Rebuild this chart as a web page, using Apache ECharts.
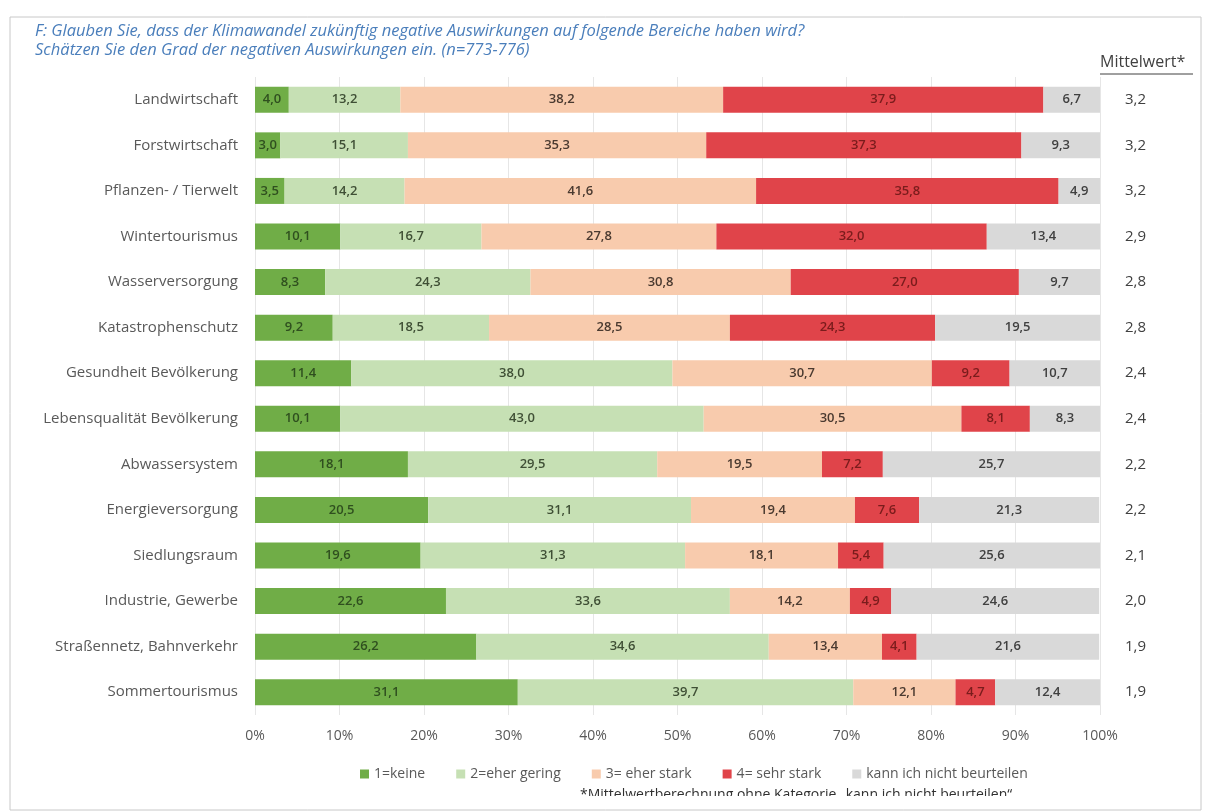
<!DOCTYPE html>
<html>
<head>
<meta charset="utf-8">
<script src="https://cdn.jsdelivr.net/npm/echarts@6/dist/echarts.min.js"></script>
<style>
  html, body { margin: 0; padding: 0; background: #fff; }
  #chart { width: 1212px; height: 812px; }
</style>
</head>
<body>
<div id="chart"></div>
<script>
// Kategorien (von oben nach unten)
const categories = [
  'Landwirtschaft', 'Forstwirtschaft', 'Pflanzen- / Tierwelt', 'Wintertourismus',
  'Wasserversorgung', 'Katastrophenschutz', 'Gesundheit Bevölkerung',
  'Lebensqualität Bevölkerung', 'Abwassersystem', 'Energieversorgung',
  'Siedlungsraum', 'Industrie, Gewerbe', 'Straßennetz, Bahnverkehr', 'Sommertourismus'
];
const keine      = [4.0, 3.0, 3.5, 10.1, 8.3, 9.2, 11.4, 10.1, 18.1, 20.5, 19.6, 22.6, 26.2, 31.1];
const eherGering = [13.2, 15.1, 14.2, 16.7, 24.3, 18.5, 38.0, 43.0, 29.5, 31.1, 31.3, 33.6, 34.6, 39.7];
const eherStark  = [38.2, 35.3, 41.6, 27.8, 30.8, 28.5, 30.7, 30.5, 19.5, 19.4, 18.1, 14.2, 13.4, 12.1];
const sehrStark  = [37.9, 37.3, 35.8, 32.0, 27.0, 24.3, 9.2, 8.1, 7.2, 7.6, 5.4, 4.9, 4.1, 4.7];
const nichtBeurt = [6.7, 9.3, 4.9, 13.4, 9.7, 19.5, 10.7, 8.3, 25.7, 21.3, 25.6, 24.6, 21.6, 12.4];
const mittelwert = [3.2, 3.2, 3.2, 2.9, 2.8, 2.8, 2.4, 2.4, 2.2, 2.2, 2.1, 2.0, 1.9, 1.9];
const xTicks = [0, 10, 20, 30, 40, 50, 60, 70, 80, 90, 100];

const fmt = v => v.toFixed(1).replace('.', ',');
const font = '"Open Sans", "Noto Sans", sans-serif';

const seriesDefs = [
  { name: '1=keine', data: keine, color: '#70AD47', text: '#2f4f1f' },
  { name: '2=eher gering', data: eherGering, color: '#C6E0B4', text: '#3f4f35' },
  { name: '3= eher stark', data: eherStark, color: '#F8CBAD', text: '#4a3a30' },
  { name: '4= sehr stark', data: sehrStark, color: '#E0444A', text: '#7a1c1c' },
  { name: 'kann ich nicht beurteilen', data: nichtBeurt, color: '#D9D9D9', text: '#404040' }
];

const chart = echarts.init(document.getElementById('chart'));

const option = {
  animation: false,
  textStyle: { fontFamily: font },
  grid: { left: 255, right: 112, top: 77, height: 638 },
  xAxis: {
    type: 'value',
    min: 0,
    max: 100,
    interval: 10,
    axisLine: { show: false },
    axisTick: { show: false },
    splitLine: { lineStyle: { color: '#E6E6E6', width: 1 } },
    axisLabel: {
      margin: 14,
      color: '#595959',
      fontSize: 14,
      formatter: v => (xTicks.includes(v) ? v + '%' : '')
    }
  },
  yAxis: [
    {
      type: 'category',
      inverse: true,
      data: categories,
      axisLine: { show: false },
      axisTick: { show: false },
      axisLabel: { margin: 17, color: '#595959', fontSize: 15 }
    },
    {
      type: 'category',
      inverse: true,
      position: 'right',
      data: categories,
      axisLine: { show: false },
      axisTick: { show: false },
      axisLabel: {
        margin: 25,
        color: '#404040',
        fontSize: 15,
        formatter: (v, i) => fmt(mittelwert[i])
      }
    }
  ],
  legend: {
    left: 355,
    top: 762,
    itemWidth: 9,
    itemHeight: 9,
    itemGap: 31,
    icon: 'rect',
    textStyle: { color: '#595959', fontSize: 14, fontFamily: font },
    data: seriesDefs.map(s => s.name)
  },
  series: seriesDefs.map(s => ({
    name: s.name,
    type: 'bar',
    stack: 'total',
    barWidth: 26,
    data: s.data,
    itemStyle: { color: s.color },
    label: {
      show: true,
      position: 'inside',
      color: s.text,
      fontSize: 13,
      fontWeight: 600,
      formatter: p => fmt(p.value)
    }
  })),
  graphic: [
    {
      type: 'rect',
      shape: { x: 10, y: 17, width: 1191, height: 793 },
      style: { fill: 'none', stroke: '#C8C8C8', lineWidth: 1 },
      silent: true
    },
    {
      type: 'text',
      left: 35,
      top: 23,
      style: {
        text: 'F: Glauben Sie, dass der Klimawandel zukünftig negative Auswirkungen auf folgende Bereiche haben wird?',
        fill: '#4A7EBB',
        font: 'italic 16.5px ' + font
      }
    },
    {
      type: 'text',
      left: 35,
      top: 42,
      style: {
        text: 'Schätzen Sie den Grad der negativen Auswirkungen ein. (n=773-776)',
        fill: '#4A7EBB',
        font: 'italic 16.5px ' + font
      }
    },
    {
      type: 'text',
      left: 1100,
      top: 54,
      style: { text: 'Mittelwert*', fill: '#404040', font: '16px ' + font }
    },
    {
      type: 'line',
      shape: { x1: 1100, y1: 74, x2: 1193, y2: 74 },
      style: { stroke: '#404040', lineWidth: 1 }
    },
    {
      type: 'text',
      left: 580,
      top: 788,
      style: {
        text: '*Mittelwertberechnung ohne Kategorie „kann ich nicht beurteilen“',
        fill: '#303030',
        font: '14px ' + font
      }
    },
    {
      type: 'rect',
      shape: { x: 560, y: 796, width: 560, height: 13 },
      style: { fill: '#ffffff' },
      silent: true
    }
  ]
};

chart.setOption(option);
</script>
</body>
</html>
